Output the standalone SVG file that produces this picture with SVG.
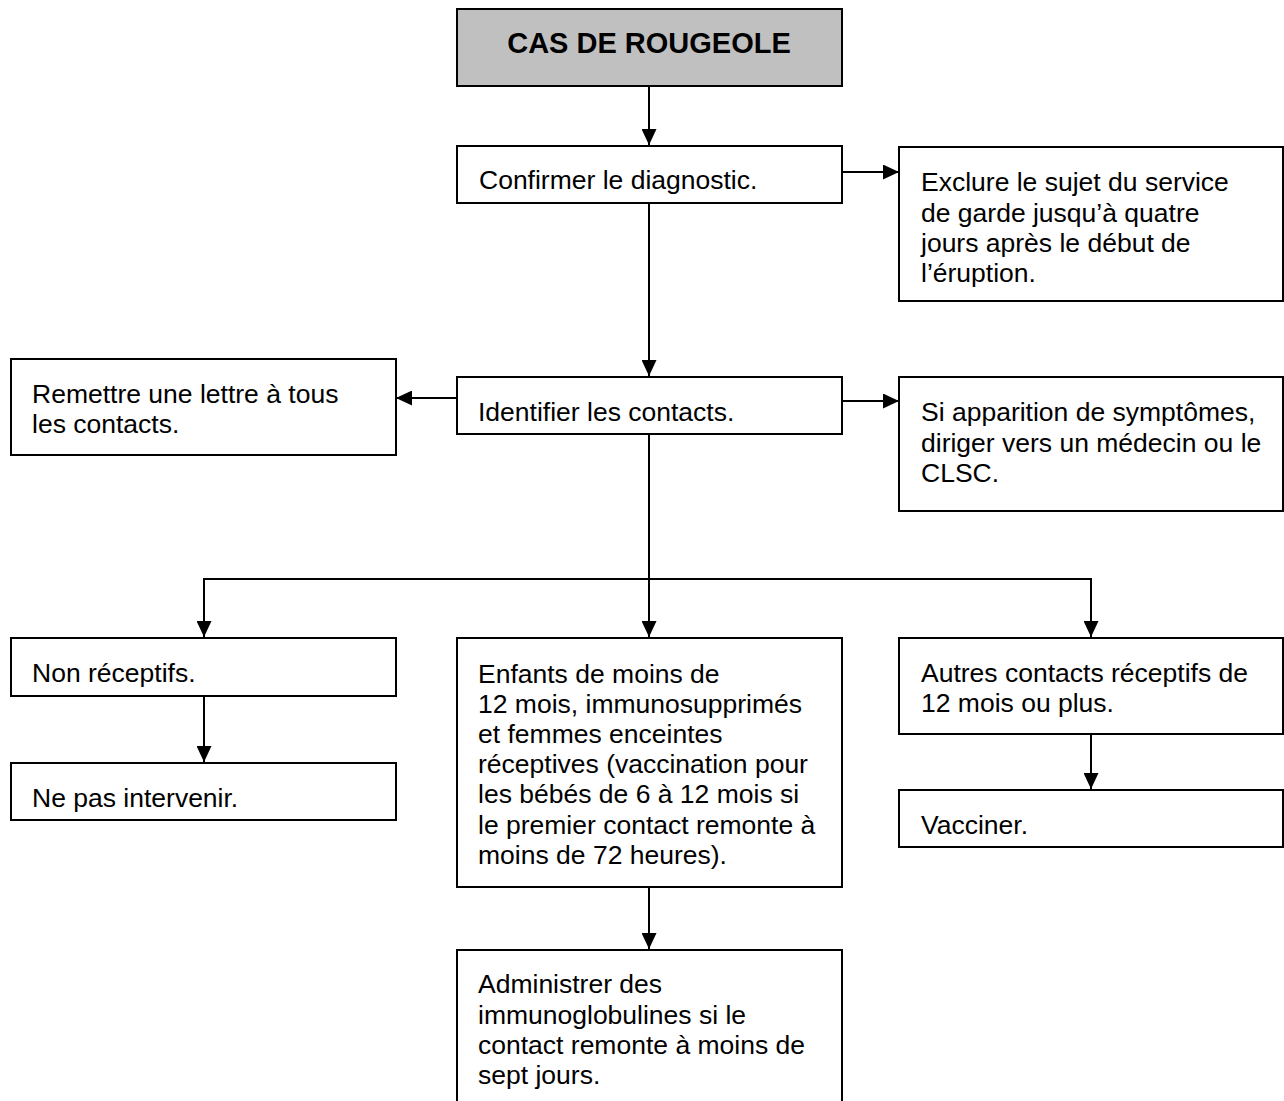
<svg xmlns="http://www.w3.org/2000/svg" width="1284" height="1101" viewBox="0 0 1284 1101">
<style>
.box{fill:#fff;stroke:#000;stroke-width:2}
.title{fill:#c0c0c0;stroke:#000;stroke-width:2}
.t{font-family:"Liberation Sans",Arial,sans-serif;font-size:26.5px;fill:#000}
.tb{font-family:"Liberation Sans",Arial,sans-serif;font-size:29px;font-weight:bold;fill:#000}
.c{fill:none;stroke:#000;stroke-width:2}
</style>
<defs>
<marker id="ah" markerWidth="16" markerHeight="15" refX="16" refY="7.5" orient="auto" markerUnits="userSpaceOnUse">
<path d="M0,0 L16,7.5 L0,15 z" fill="#000"/>
</marker>
</defs>
<rect width="1284" height="1101" fill="#fff"/>
<g id="connectors">
<line class="c" x1="649" y1="86" x2="649" y2="145" marker-end="url(#ah)"/>
<line class="c" x1="843" y1="172" x2="899" y2="172" marker-end="url(#ah)"/>
<line class="c" x1="649" y1="203" x2="649" y2="376" marker-end="url(#ah)"/>
<line class="c" x1="456" y1="398" x2="396" y2="398" marker-end="url(#ah)"/>
<line class="c" x1="843" y1="401" x2="899" y2="401" marker-end="url(#ah)"/>
<line class="c" x1="649" y1="434" x2="649" y2="637" marker-end="url(#ah)"/>
<polyline class="c" points="649,579 204,579 204,637" marker-end="url(#ah)"/>
<polyline class="c" points="649,579 1091,579 1091,637" marker-end="url(#ah)"/>
<line class="c" x1="204" y1="696" x2="204" y2="762" marker-end="url(#ah)"/>
<line class="c" x1="1091" y1="734" x2="1091" y2="789" marker-end="url(#ah)"/>
<line class="c" x1="649" y1="887" x2="649" y2="949" marker-end="url(#ah)"/>
</g>
<g id="cas">
<rect class="title" x="457" y="9" width="385" height="77"/>
<text class="tb" x="649" y="53" text-anchor="middle">CAS DE ROUGEOLE</text>
</g>
<g id="confirmer">
<rect class="box" x="457" y="146" width="385" height="57"/>
<text class="t" x="479" y="189">Confirmer le diagnostic.</text>
</g>
<g id="exclure">
<rect class="box" x="899" y="147" width="384" height="154"/>
<text class="t" x="921"><tspan x="921" y="191">Exclure le sujet du service</tspan><tspan x="921" y="221.5">de garde jusqu’à quatre</tspan><tspan x="921" y="252">jours après le début de</tspan><tspan x="921" y="282">l’éruption.</tspan></text>
</g>
<g id="remettre">
<rect class="box" x="11" y="359" width="385" height="96"/>
<text class="t"><tspan x="32" y="403">Remettre une lettre à tous</tspan><tspan x="32" y="433">les contacts.</tspan></text>
</g>
<g id="identifier">
<rect class="box" x="457" y="377" width="385" height="57"/>
<text class="t" x="478" y="421">Identifier les contacts.</text>
</g>
<g id="symptomes">
<rect class="box" x="899" y="377" width="384" height="134"/>
<text class="t"><tspan x="921" y="421">Si apparition de symptômes,</tspan><tspan x="921" y="451.5">diriger vers un médecin ou le</tspan><tspan x="921" y="482">CLSC.</tspan></text>
</g>
<g id="nonreceptifs">
<rect class="box" x="11" y="638" width="385" height="58"/>
<text class="t" x="32" y="682">Non réceptifs.</text>
</g>
<g id="nepas">
<rect class="box" x="11" y="763" width="385" height="57"/>
<text class="t" x="32" y="807">Ne pas intervenir.</text>
</g>
<g id="enfants">
<rect class="box" x="457" y="638" width="385" height="249"/>
<text class="t"><tspan x="478" y="683">Enfants de moins de</tspan><tspan x="478" y="713">12 mois, immunosupprimés</tspan><tspan x="478" y="743">et femmes enceintes</tspan><tspan x="478" y="773">réceptives (vaccination pour</tspan><tspan x="478" y="803">les bébés de 6 à 12 mois si</tspan><tspan x="478" y="833.5">le premier contact remonte à</tspan><tspan x="478" y="863.5">moins de 72 heures).</tspan></text>
</g>
<g id="administrer">
<rect class="box" x="457" y="950" width="385" height="160"/>
<text class="t"><tspan x="478" y="993">Administrer des</tspan><tspan x="478" y="1023.5">immunoglobulines si le</tspan><tspan x="478" y="1054">contact remonte à moins de</tspan><tspan x="478" y="1084">sept jours.</tspan></text>
</g>
<g id="autres">
<rect class="box" x="899" y="638" width="384" height="96"/>
<text class="t"><tspan x="921" y="682">Autres contacts réceptifs de</tspan><tspan x="921" y="712">12 mois ou plus.</tspan></text>
</g>
<g id="vacciner">
<rect class="box" x="899" y="790" width="384" height="57"/>
<text class="t" x="921" y="834">Vacciner.</text>
</g>
</svg>
